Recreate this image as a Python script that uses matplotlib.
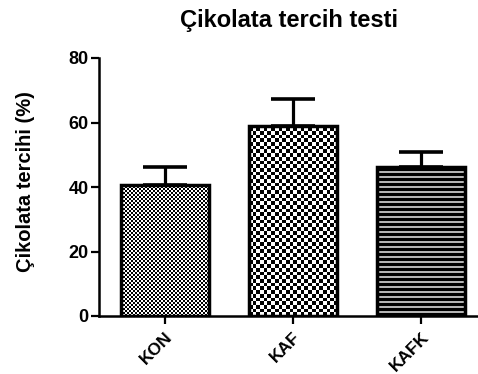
import matplotlib
matplotlib.use("Agg")
import matplotlib.pyplot as plt
import numpy as np

categories = ["KON", "KAF", "KAFK"]
means = [40.6, 58.9, 46.2]
sem = [5.6, 8.3, 4.6]
yticks = [0, 20, 40, 60, 80]

plt.rcParams['font.family'] = ['Liberation Sans', 'DejaVu Sans']
plt.rcParams['font.weight'] = 'bold'

fig = plt.figure(figsize=(4.78, 3.74), dpi=100)
ax = fig.add_axes([99/478, 1-316/374, 1-99/478, 258/374])

x = np.arange(len(categories))
bars = ax.bar(x, means, width=0.6875, facecolor='none', edgecolor='black', linewidth=2.5, zorder=3)
ax.errorbar(x, means, yerr=[np.zeros(len(sem)), sem], fmt='none', ecolor='black',
            elinewidth=2.3, capsize=15.5, capthick=2.6, zorder=2)

ax.set_xlim(-0.516, 2.445)
ax.set_ylim(0, 80)
ax.set_yticks(yticks)
ax.set_xticks(x)
ax.set_xticklabels(categories, rotation=45, ha='right', rotation_mode='anchor', fontsize=12.5, fontweight='bold')
ax.tick_params(axis='y', labelsize=13, width=1.6, length=5.5, pad=2)
ax.tick_params(axis='x', width=1.6, length=5.5, pad=4)
for s in ['top', 'right']:
    ax.spines[s].set_visible(False)
for s in ['left', 'bottom']:
    ax.spines[s].set_linewidth(1.8)
ax.set_ylabel("Çikolata tercihi (%)", fontsize=14.5, fontweight='bold')
ax.yaxis.set_label_coords(-0.17, 0.523)
ax.set_title("Çikolata tercih testi", fontsize=17, fontweight='bold', pad=22)

# pattern fills clipped to bars
fig.canvas.draw()
def pattern(kind, wpx, hpx):
    if kind == 'fine':
        c = 2
        nx, ny = int(wpx // c) + 1, int(hpx // c) + 1
        a = (np.add.outer(np.arange(ny), np.arange(nx)) % 2).astype(float)
        return a, nx * c, ny * c
    if kind == 'coarse':
        c = 3.7
        nx, ny = int(wpx // c) + 1, int(hpx // c) + 1
        a = (np.add.outer(np.arange(ny), np.arange(nx)) % 2).astype(float)
        return a, nx * c, ny * c
    # stripes
    p = 5
    ny = int(hpx) + 1
    rows = np.array([0.0 if (i % p) < 3 else 0.7 for i in range(ny)])
    a = np.repeat(rows[:, None], 4, axis=1)
    return a, wpx, ny

kinds = ['fine', 'coarse', 'stripes']
inv = ax.transData.inverted()
for b, k in zip(bars, kinds):
    bb = b.get_window_extent()
    a, wpx, hpx = pattern(k, bb.width, bb.height)
    x0, y0 = inv.transform((bb.x0, bb.y0))
    x1, y1 = inv.transform((bb.x0 + wpx, bb.y0 + hpx))
    im = ax.imshow(a, cmap='gray', vmin=0, vmax=1, interpolation='nearest',
                   extent=[x0, x1, y0, y1], origin='lower', aspect='auto', zorder=1)
    im.set_clip_path(b)
ax.set_xlim(-0.516, 2.445)
ax.set_ylim(0, 80)

fig.savefig("out.png", dpi=100)
